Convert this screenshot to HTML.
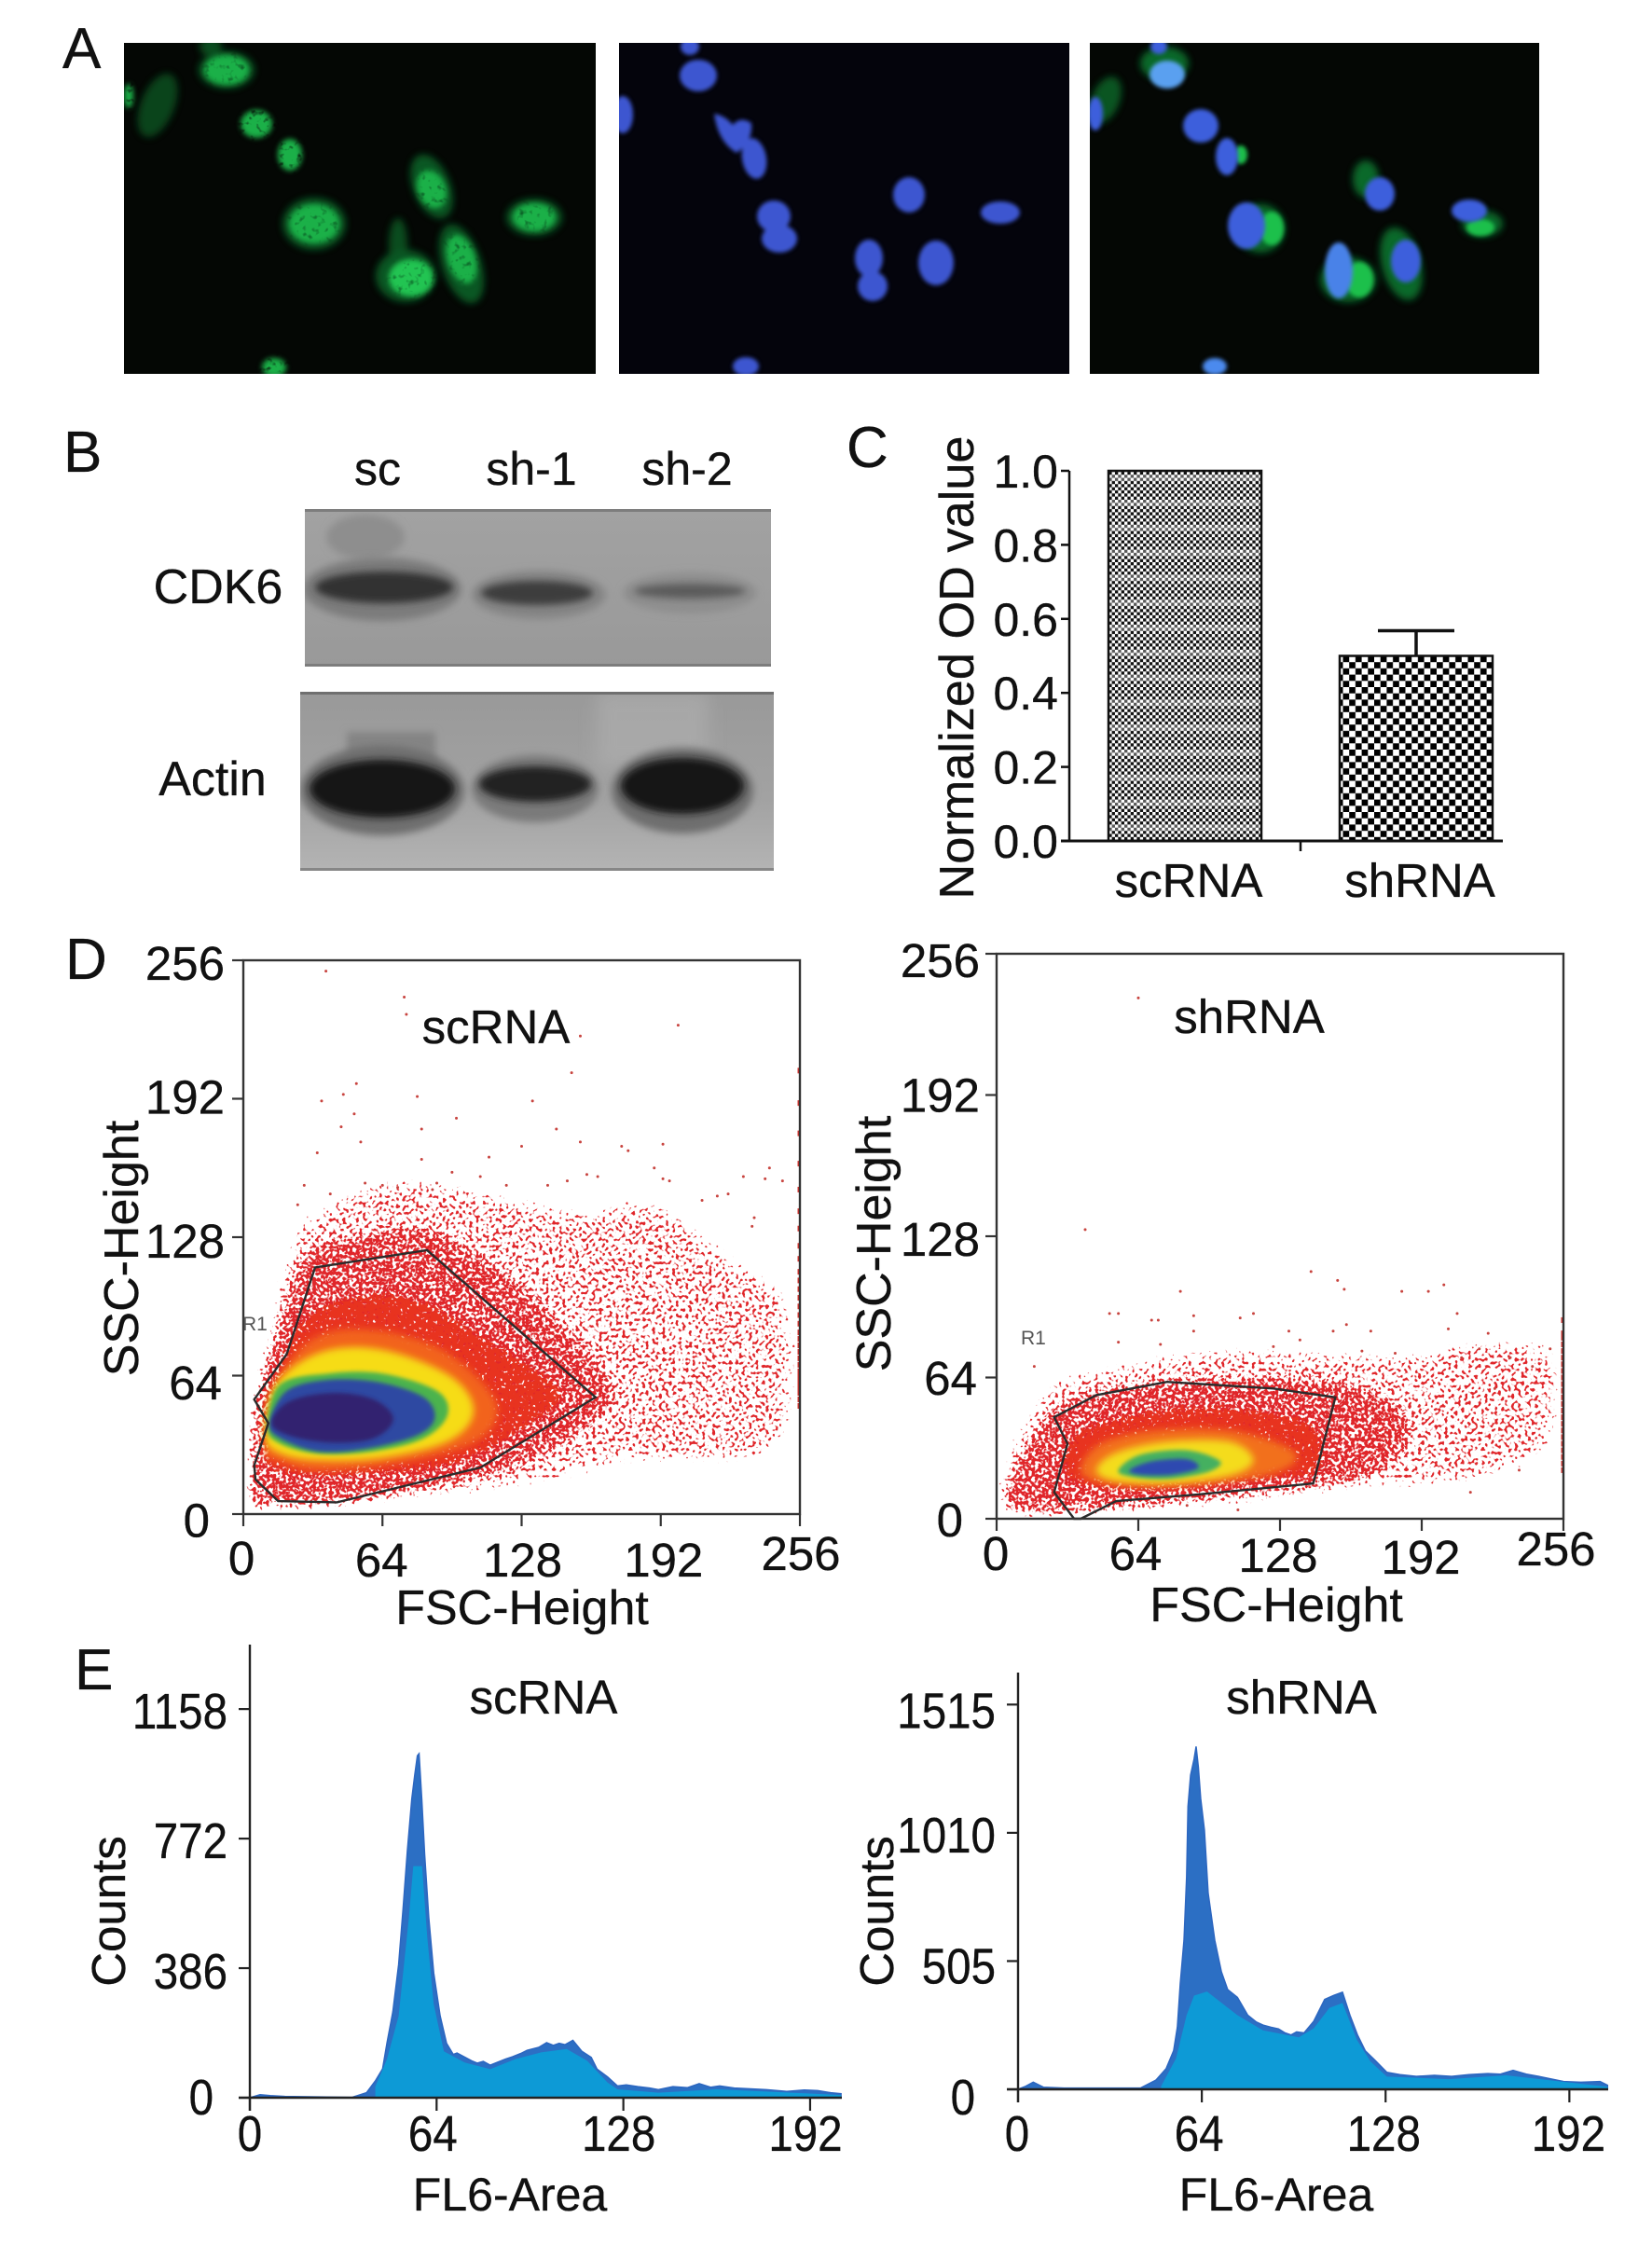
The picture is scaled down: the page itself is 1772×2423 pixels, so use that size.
<!DOCTYPE html>
<html lang="en">
<head>
<meta charset="utf-8">
<title>CDK6 knockdown figure</title>
<style>
html,body{margin:0;padding:0;background:#fff;width:1772px;height:2423px;overflow:hidden}
svg{display:block;position:absolute;left:0;top:0}
text{font-family:"Liberation Sans",Arial,sans-serif;fill:#111;stroke:#111;stroke-width:.35}
</style>
</head>
<body>
<svg id="figure" width="1772" height="2423" viewBox="0 0 1772 2423" xmlns="http://www.w3.org/2000/svg">
<defs>
  <filter id="soft2" x="-30%" y="-30%" width="160%" height="160%"><feGaussianBlur stdDeviation="2"/></filter>
  <filter id="soft4" x="-40%" y="-40%" width="180%" height="180%"><feGaussianBlur stdDeviation="4"/></filter>
  <filter id="soft9" x="-60%" y="-60%" width="220%" height="220%"><feGaussianBlur stdDeviation="9"/></filter>
  <filter id="cell-grain" x="-20%" y="-20%" width="140%" height="140%" color-interpolation-filters="sRGB">
    <feGaussianBlur stdDeviation="3" result="b"/>
    <feTurbulence type="fractalNoise" baseFrequency="0.16" numOctaves="2" seed="8" result="n"/>
    <feColorMatrix in="n" type="matrix" values="0 0 0 0 0 0 0 0 0 0 0 0 0 0 0 0 0 0 2.6 -0.15" result="t"/>
    <feComposite in="b" in2="t" operator="in"/>
  </filter>
  <filter id="stipple-sparse" x="-15%" y="-15%" width="130%" height="130%" color-interpolation-filters="sRGB">
    <feGaussianBlur in="SourceAlpha" stdDeviation="14" result="b"/>
    <feTurbulence type="fractalNoise" baseFrequency="0.28" numOctaves="1" seed="5" result="n"/>
    <feComposite in="b" in2="n" operator="arithmetic" k1="0" k2="0.5" k3="0.5" k4="0" result="s"/>
    <feColorMatrix in="s" type="matrix" values="0 0 0 0 0 0 0 0 0 0 0 0 0 0 0 0 0 0 25 -19.3" result="t"/>
    <feFlood flood-color="#e0262a" result="f"/>
    <feComposite in="f" in2="t" operator="in"/>
  </filter>
  <filter id="stipple-medium" x="-15%" y="-15%" width="130%" height="130%" color-interpolation-filters="sRGB">
    <feGaussianBlur in="SourceAlpha" stdDeviation="9" result="b"/>
    <feTurbulence type="fractalNoise" baseFrequency="0.28" numOctaves="1" seed="11" result="n"/>
    <feComposite in="b" in2="n" operator="arithmetic" k1="0" k2="0.5" k3="0.5" k4="0" result="s"/>
    <feColorMatrix in="s" type="matrix" values="0 0 0 0 0 0 0 0 0 0 0 0 0 0 0 0 0 0 25 -18" result="t"/>
    <feFlood flood-color="#e0262a" result="f"/>
    <feComposite in="f" in2="t" operator="in"/>
  </filter>
  <filter id="stipple-dense" x="-15%" y="-15%" width="130%" height="130%" color-interpolation-filters="sRGB">
    <feGaussianBlur in="SourceAlpha" stdDeviation="7" result="b"/>
    <feTurbulence type="fractalNoise" baseFrequency="0.3" numOctaves="1" seed="21" result="n"/>
    <feComposite in="b" in2="n" operator="arithmetic" k1="0" k2="0.5" k3="0.5" k4="0" result="s"/>
    <feColorMatrix in="s" type="matrix" values="0 0 0 0 0 0 0 0 0 0 0 0 0 0 0 0 0 0 25 -16.5" result="t"/>
    <feFlood flood-color="#e8331f" result="f"/>
    <feComposite in="f" in2="t" operator="in"/>
  </filter>
  <pattern id="fine-check" width="6.7" height="26.8" patternUnits="userSpaceOnUse">
    <rect width="6.7" height="26.8" fill="#fff"/>
    <rect y="0" width="3.35" height="3.35" fill="#111"/>
    <rect x="3.35" y="3.35" width="3.35" height="3.35" fill="#111"/>
    <rect y="6.7" width="3.35" height="3.35" fill="#111"/>
    <rect x="3.35" y="10.05" width="3.35" height="3.35" fill="#111"/>
    <rect y="13.4" width="3.35" height="3.35" fill="#111"/>
    <rect x="3.35" y="16.75" width="3.35" height="3.35" fill="#111"/>
    <rect y="20.1" width="3.35" height="3.35" fill="#111"/>
    <rect x="3.35" y="23.45" width="3.35" height="3.35" fill="#111"/>
    <rect y="0" width="6.7" height="6.7" fill="#fff" opacity="0.3"/>
  </pattern>
  <pattern id="coarse-check" width="13.4" height="13.4" patternUnits="userSpaceOnUse">
    <rect width="13.4" height="13.4" fill="#fff"/>
    <rect width="6.7" height="6.7" fill="#000"/>
    <rect x="6.7" y="6.7" width="6.7" height="6.7" fill="#000"/>
  </pattern>
  <linearGradient id="blot2-bg" x1="0" y1="0" x2="0" y2="1">
    <stop offset="0" stop-color="#999"/><stop offset="0.6" stop-color="#a2a2a2"/><stop offset="1" stop-color="#b4b4b4"/>
  </linearGradient>
  <linearGradient id="blot1-bg" x1="0" y1="0" x2="0" y2="1">
    <stop offset="0" stop-color="#a2a2a2"/><stop offset="1" stop-color="#999"/>
  </linearGradient>
  <clipPath id="clip-a1"><rect x="133" y="46" width="506" height="355"/></clipPath>
  <clipPath id="clip-a2"><rect x="664" y="46" width="483" height="355"/></clipPath>
  <clipPath id="clip-a3"><rect x="1169" y="46" width="482" height="355"/></clipPath>
  <clipPath id="clip-b1"><rect x="327" y="546" width="500" height="169"/></clipPath>
  <clipPath id="clip-b2"><rect x="322" y="742" width="508" height="192"/></clipPath>
</defs>

<rect width="1772" height="2423" fill="#fff"/>

<!-- Panel A -->
<text x="67" y="73" font-size="62">A</text>
<g clip-path="url(#clip-a1)">
  <rect x="133" y="46" width="506" height="355" fill="#040704"/>
  <g fill="#0f7a30" filter="url(#soft4)" opacity="0.7">
    <ellipse cx="226" cy="50" rx="12" ry="10" fill="#0c6b2a"/>
    <ellipse cx="169" cy="113" rx="18" ry="36" transform="rotate(22 169 113)" fill="#0b5f26"/>
    <ellipse cx="463" cy="200" rx="20" ry="36" transform="rotate(-22 463 200)"/>
    <ellipse cx="427" cy="262" rx="10" ry="28" fill="#0c6b2a"/>
    <ellipse cx="495" cy="283" rx="21" ry="44" transform="rotate(-18 495 283)"/>
    <ellipse cx="435" cy="296" rx="32" ry="28"/>
    <ellipse cx="337" cy="240" rx="34" ry="28"/>
    <ellipse cx="573" cy="233" rx="30" ry="20"/>
    <ellipse cx="243" cy="75" rx="30" ry="20"/>
  </g>
  <g fill="#1bb048" filter="url(#cell-grain)">
    <ellipse cx="243" cy="75" rx="24" ry="16"/>
    <ellipse cx="138" cy="103" rx="5" ry="13"/>
    <ellipse cx="275" cy="133" rx="17" ry="15"/>
    <ellipse cx="311" cy="166" rx="13" ry="17"/>
    <ellipse cx="463" cy="203" rx="15" ry="21" transform="rotate(-22 463 203)"/>
    <ellipse cx="337" cy="240" rx="27" ry="21"/>
    <ellipse cx="573" cy="233" rx="23" ry="15"/>
    <ellipse cx="441" cy="298" rx="24" ry="20" fill="#22c452"/>
    <ellipse cx="495" cy="278" rx="15" ry="27" transform="rotate(-18 495 278)"/>
    <ellipse cx="294" cy="394" rx="13" ry="10"/>
  </g>
</g>
<g clip-path="url(#clip-a2)">
  <rect x="664" y="46" width="483" height="355" fill="#04040c"/>
  <g fill="#3d56d0" filter="url(#soft2)">
    <ellipse cx="740" cy="50" rx="10" ry="9"/>
    <ellipse cx="749" cy="81" rx="20" ry="17"/>
    <ellipse cx="668" cy="123" rx="11" ry="20"/>
    <path d="M766 122 Q778 124 786 134 Q794 124 806 132 Q808 152 790 164 Q770 152 766 122Z"/>
    <ellipse cx="809" cy="170" rx="13" ry="22" transform="rotate(-10 809 170)"/>
    <ellipse cx="975" cy="209" rx="17" ry="19"/>
    <ellipse cx="1073" cy="228" rx="21" ry="12"/>
    <ellipse cx="830" cy="232" rx="18" ry="17"/>
    <ellipse cx="836" cy="256" rx="19" ry="15"/>
    <ellipse cx="932" cy="277" rx="15" ry="20"/>
    <ellipse cx="936" cy="307" rx="16" ry="16"/>
    <ellipse cx="1004" cy="282" rx="19" ry="24"/>
    <ellipse cx="800" cy="393" rx="14" ry="10"/>
  </g>
</g>
<g clip-path="url(#clip-a3)">
  <rect x="1169" y="46" width="482" height="355" fill="#040704"/>
  <g fill="#108235" filter="url(#soft4)" opacity="0.8">
    <ellipse cx="1249" cy="68" rx="26" ry="18"/>
    <ellipse cx="1186" cy="107" rx="15" ry="26" transform="rotate(22 1186 107)" fill="#0c6b2a"/>
    <ellipse cx="1465" cy="192" rx="14" ry="20"/>
    <ellipse cx="1503" cy="283" rx="21" ry="40" transform="rotate(-15 1503 283)"/>
    <ellipse cx="1446" cy="300" rx="30" ry="24"/>
    <ellipse cx="1352" cy="245" rx="26" ry="26"/>
    <ellipse cx="1590" cy="240" rx="22" ry="14"/>
  </g>
  <g fill="#1cc04c" filter="url(#soft2)">
    <ellipse cx="1331" cy="166" rx="7" ry="10"/>
    <ellipse cx="1364" cy="245" rx="13" ry="18"/>
    <ellipse cx="1588" cy="244" rx="15" ry="9"/>
    <ellipse cx="1458" cy="300" rx="15" ry="19"/>
  </g>
  <g fill="#3d5fdc" filter="url(#soft2)">
    <ellipse cx="1243" cy="50" rx="9" ry="8"/>
    <ellipse cx="1175" cy="122" rx="8" ry="18"/>
    <ellipse cx="1288" cy="135" rx="19" ry="18"/>
    <ellipse cx="1316" cy="168" rx="12" ry="20"/>
    <ellipse cx="1480" cy="208" rx="16" ry="18"/>
    <ellipse cx="1337" cy="242" rx="20" ry="25"/>
    <ellipse cx="1576" cy="226" rx="19" ry="12"/>
    <ellipse cx="1436" cy="290" rx="15" ry="30" fill="#4a82e8"/>
    <ellipse cx="1508" cy="280" rx="16" ry="23"/>
    <ellipse cx="1252" cy="80" rx="19" ry="15" fill="#5aa0f0"/>
    <ellipse cx="1303" cy="393" rx="13" ry="9" fill="#4c8aee"/>
  </g>
</g>

<!-- Panel B -->
<text x="68" y="506" font-size="62">B</text>
<text x="405" y="520" font-size="50" text-anchor="middle">sc</text>
<text x="570" y="520" font-size="50" text-anchor="middle">sh-1</text>
<text x="737" y="520" font-size="50" text-anchor="middle">sh-2</text>
<text x="234" y="647" font-size="52" text-anchor="middle">CDK6</text>
<text x="228" y="853" font-size="52" text-anchor="middle">Actin</text>
<g clip-path="url(#clip-b1)">
  <rect x="327" y="546" width="500" height="169" fill="url(#blot1-bg)"/>
  <ellipse cx="392" cy="576" rx="42" ry="24" fill="#8e8e8e" filter="url(#soft4)"/>
  <ellipse cx="410" cy="632" rx="85" ry="34" fill="#7c7c7c" filter="url(#soft4)"/>
  <ellipse cx="578" cy="638" rx="72" ry="26" fill="#858585" filter="url(#soft4)"/>
  <ellipse cx="740" cy="636" rx="72" ry="22" fill="#8e8e8e" filter="url(#soft4)"/>
  <ellipse cx="412" cy="630" rx="74" ry="17" fill="#333" filter="url(#soft4)"/>
  <ellipse cx="576" cy="636" rx="60" ry="13" fill="#3e3e3e" filter="url(#soft4)"/>
  <ellipse cx="740" cy="634" rx="60" ry="8" fill="#5c5c5c" filter="url(#soft4)"/>
  <rect x="327" y="546" width="500" height="3" fill="#7d7d7d"/>
  <rect x="327" y="712" width="500" height="3" fill="#7d7d7d"/>
</g>
<g clip-path="url(#clip-b2)">
  <rect x="322" y="742" width="508" height="192" fill="url(#blot2-bg)"/>
  <rect x="372" y="785" width="95" height="60" fill="#848484" filter="url(#soft4)"/>
  <rect x="640" y="742" width="120" height="80" fill="#b0b0b0" opacity="0.6" filter="url(#soft9)"/>
  <ellipse cx="410" cy="848" rx="88" ry="48" fill="#6e6e6e" filter="url(#soft4)"/>
  <ellipse cx="574" cy="846" rx="68" ry="36" fill="#7a7a7a" filter="url(#soft4)"/>
  <ellipse cx="732" cy="848" rx="76" ry="46" fill="#6e6e6e" filter="url(#soft4)"/>
  <ellipse cx="410" cy="846" rx="78" ry="31" fill="#131313" filter="url(#soft4)"/>
  <ellipse cx="574" cy="841" rx="60" ry="19" fill="#222" filter="url(#soft4)"/>
  <ellipse cx="732" cy="843" rx="66" ry="30" fill="#161616" filter="url(#soft4)"/>
  <rect x="322" y="742" width="508" height="3" fill="#6f6f6f"/>
  <rect x="322" y="931" width="508" height="3" fill="#868686"/>
</g>

<text x="908" y="501" font-size="62">C</text>
<text x="70" y="1050" font-size="62">D</text>
<text x="80" y="1812" font-size="62">E</text>

<g id="chart-c"></g>
<g id="chart-d1"></g>
<g id="chart-d2"></g>
<g id="chart-e1"></g>
<g id="chart-e2"></g>
</svg>

<script>
// ---------- Panel C data ----------
const cCategories = ['scRNA', 'shRNA'];
const cValues = [1.0, 0.5];
const cErrors = [0, 0.068];
const cTickValues = [0, 0.2, 0.4, 0.6, 0.8, 1.0];
const cTickLabels = ['0.0', '0.2', '0.4', '0.6', '0.8', '1.0'];

// ---------- Panel D data: [FSC, SSC] ----------
const flowTicks = [0, 64, 128, 192, 256];

const scGate = [[5,53],[11.5,42],[5,22.5],[5.6,16],[16,6],[43,5.4],[109,21.5],[162,54],[84.5,122],[33,114],[20,74]];
const scSparse = [[0,0],[0,20],[3,60],[10,105],[20,135],[36,148],[67,160],[105,156],[150,146],[190,150],[225,125],[256,100],[256,40],[235,20],[175,18],[150,11],[102,4],[43,0]];
const scMedium = [[0,2],[1,50],[12,90],[26,124],[55,134],[86,136],[124,114],[166,74],[174,50],[141,24],[102,10],[41,0],[13,0]];
const scRed = [[8,23],[13,60],[24,89],[46,102],[79,102],[116,81],[149,56],[126,35],[93,20],[43,16],[15,18]];
const scOrange = [[10,29],[14,58],[32,81],[60,85],[93,75],[116,52],[109,35],[79,25],[36,20],[15,25]];
const scYellow = [[10,37],[15,60],[36,75],[64,76],[95,64],[106,48],[95,34],[64,26],[32,25],[15,29]];
const scGreen = [[11,41],[17,60],[39,65],[64,65],[89,57],[94,46],[83,35],[60,29],[34,28],[16,33]];
const scBlue = [[12,42],[20,57],[39,62],[62,61],[83,54],[88,44],[79,36],[55,30],[34,29],[17,35]];
const scPurple = [[13,42],[21,52],[41,56],[60,53],[69,44],[60,35],[41,33],[22,36]];
const scOutliers = [[38,251],[74,239],[75,231],[200,226],[155,221],[151,204],[52,199],[46,194],[36,191],[80,193],[133,191],[51,185],[45,179],[98,183],[82,178],[144,178],[54,172],[34,167],[155,172],[174,170],[193,171],[177,168],[128,170],[113,165],[82,164],[189,160],[242,160],[240,155],[230,156],[248,154],[193,155],[196,154],[158,157],[163,156],[223,148],[218,147],[211,145],[235,137],[234,133],[56,153],[64,152],[71,151],[28,152],[40,148],[25,143],[87,150],[89,153],[96,158],[109,156],[121,152],[140,152],[149,154]];
const scEdgeSsc = [50,53,56,58,60,62,64,66,69,72,75,78,81,84,88,92,96,100,104,108,112,118,124,132,140,150,162,176,190,205];

const shGate = [[26,46],[45,56],[77,62],[125,59],[153,55],[143,16],[91,11],[54,8],[38,0],[35,0],[26,12],[32,34]];
const shSparse = [[0,0],[2,34],[22,66],[59,76],[91,82],[137,82],[183,80],[218,86],[256,80],[256,34],[237,18],[203,10],[161,8],[91,0]];
const shMedium = [[4,0],[4,26],[28,56],[68,66],[114,68],[149,67],[179,58],[192,38],[176,18],[146,10],[91,4],[49,0]];
const shRed = [[29,20],[33,39],[59,49],[95,53],[132,49],[147,41],[146,20],[114,15],[79,12],[45,12]];
const shOrange = [[38,22],[47,34],[72,40],[105,40],[130,33],[135,26],[119,19],[82,15],[49,16]];
const shYellow = [[45,22],[54,30],[77,35],[105,35],[116,27],[107,20],[79,16],[54,17]];
const shGreen = [[55,22],[65,29],[86,31],[101,26],[95,21],[77,18],[61,19]];
const shBlue = [[60,22],[70,26],[86,27],[91,23],[79,20],[65,20]];
const shOutliers = [[64,236],[40,131],[142,112],[154,108],[83,103],[202,106],[183,103],[195,103],[157,104],[208,93],[116,93],[110,91],[89,92],[51,93],[55,93],[70,90],[73,90],[204,86],[222,84],[169,85],[132,85],[152,85],[89,85],[158,88],[55,80],[17,69],[74,79],[125,78],[137,81],[165,76],[180,75],[218,77],[250,77],[232,73],[242,69],[210,73],[225,59],[236,22],[214,12],[109,4],[86,6]];
const shEdgeSsc = [22,25,28,31,34,37,40,43,46,49,52,55,58,61,64,67,70,73,76,79,82,84,90];

// ---------- Panel E data: [FL6, counts] ----------
const e1Ticks = [0, 386, 772, 1158];
const e2Ticks = [0, 505, 1010, 1515];
const histXTicks = [0, 64, 128, 192];
const e1Counts = [[0,0],[3.5,9],[7,6],[12,4],[35,1],[40,15],[43,50],[45.5,86],[47,163],[49,256],[51,397],[52.5,561],[54,737],[55.5,890],[56.5,960],[57.4,1019],[58,1025],[58.9,890],[59.9,725],[61.3,537],[63,372],[65.2,244],[67.4,162],[69.7,129],[71,133],[73.6,121],[76,110],[78,103],[80,108],[82.4,97],[85,106],[87.6,115],[90,122],[92.9,132],[95,141],[99,150],[101.7,164],[104,156],[106,162],[108,158],[110.7,171],[113.8,138],[117,120],[119,85],[122.6,62],[126,35],[129,38],[133,33],[137,29],[140,24],[145,33],[150,30],[154,42],[158,31],[161,35],[166,29],[170,27],[177,24],[184,19],[190,23],[194.6,21],[199,15],[202.6,12]];
const e1Inner = [[43,33],[47,115],[51,244],[54.5,537],[56,690],[59,690],[60.8,478],[63,279],[66.5,138],[73.6,105],[82.4,85],[91,115],[99.8,135],[108.6,145],[115.6,110],[122.6,45],[126,25],[140,15],[160,25],[202.6,8]];
const e2Counts = [[0,0],[2.7,12],[5.3,28],[8.9,8],[16,5],[42.7,5],[48,36],[51.6,82],[54.2,152],[55.5,245],[56.5,416],[57.8,587],[58.7,835],[59.2,1114],[60.1,1238],[61.3,1300],[62,1350],[62.8,1269],[63.6,1145],[64.9,1021],[66.2,773],[68.5,587],[70.8,463],[73,393],[76.4,362],[80,292],[83,265],[85.3,253],[88,245],[90.7,238],[93,222],[95.1,214],[97,226],[99.6,222],[103,268],[106.8,354],[110,370],[113,382],[115.6,292],[118.2,214],[120.9,152],[124.4,113],[128.4,67],[133,58],[138.7,51],[145,55],[151,51],[157,58],[163.6,62],[168,60],[172.4,75],[177,60],[181.3,51],[190,31],[196,28],[202.7,31],[205.3,16]];
const e2Inner = [[49.8,12],[55,121],[58.7,292],[61.3,369],[65.8,385],[76.4,292],[85.3,232],[97.8,205],[103,240],[108.4,320],[113,340],[115.6,265],[118,195],[122.7,110],[128.4,50],[150,40],[170,55],[205.3,10]];

const SVG_NS = 'http://www.w3.org/2000/svg';

function make(parent, tag, attrs) {
  const el = document.createElementNS(SVG_NS, tag);
  for (const k in attrs) el.setAttribute(k, attrs[k]);
  parent.appendChild(el);
  return el;
}
function label(parent, str, x, y, size, anchor, name, rot, sx) {
  const t = make(parent, 'text', { 'font-size': size, 'text-anchor': anchor || 'middle' });
  t.setAttribute('transform', 'translate(' + x + ' ' + y + ')' + (rot ? ' rotate(' + rot + ')' : '') + (sx ? ' scale(' + sx + ' 1)' : ''));
  
  
  t.textContent = str;
  return t;
}
function smoothClosed(points) {
  const n = points.length;
  let d = 'M' + points[0][0].toFixed(1) + ' ' + points[0][1].toFixed(1);
  for (let i = 0; i < n; i++) {
    const p0 = points[(i - 1 + n) % n], p1 = points[i], p2 = points[(i + 1) % n], p3 = points[(i + 2) % n];
    const c1x = p1[0] + (p2[0] - p0[0]) / 6, c1y = p1[1] + (p2[1] - p0[1]) / 6;
    const c2x = p2[0] - (p3[0] - p1[0]) / 6, c2y = p2[1] - (p3[1] - p1[1]) / 6;
    d += 'C' + c1x.toFixed(1) + ' ' + c1y.toFixed(1) + ' ' + c2x.toFixed(1) + ' ' + c2y.toFixed(1) + ' ' + p2[0].toFixed(1) + ' ' + p2[1].toFixed(1);
  }
  return d + 'Z';
}

// ---------- Panel C ----------
(function () {
  const g = document.getElementById('chart-c');
  const y = v => 902 - v * 397;
  const centers = [1271, 1519];
  const patterns = ['url(#fine-check)', 'url(#coarse-check)'];
  cValues.forEach((v, i) => {
    const bar = make(g, 'rect', { x: centers[i] - 82, y: y(v), width: 164, height: y(0) - y(v), fill: patterns[i], stroke: '#111', 'stroke-width': 2.5 });
    
    
    if (cErrors[i] > 0) {
      const err = make(g, 'path', { d: 'M' + centers[i] + ' ' + y(v) + 'V' + y(v + cErrors[i]) + 'M' + (centers[i] - 41) + ' ' + y(v + cErrors[i]) + 'H' + (centers[i] + 41), stroke: '#111', 'stroke-width': 3.5, fill: 'none' });
      
      
    }
    label(g, cCategories[i], centers[i] + 4, 962, 51, 'middle', 'x-label-' + cCategories[i]);
  });
  const yAxis = make(g, 'line', { x1: 1147, x2: 1147, y1: y(1), y2: y(0), stroke: '#111', 'stroke-width': 2.5 });
  
  
  const xAxis = make(g, 'line', { x1: 1138, x2: 1612, y1: y(0), y2: y(0), stroke: '#111', 'stroke-width': 3 });
  
  
  const midTick = make(g, 'line', { x1: 1395, x2: 1395, y1: y(0), y2: 913, stroke: '#111', 'stroke-width': 2.5 });
  
  
  cTickValues.forEach((v, i) => {
    const tick = make(g, 'line', { x1: 1138, x2: 1147, y1: y(v), y2: y(v), stroke: '#111', 'stroke-width': 2.5 });
    
    
    label(g, cTickLabels[i], 1135, y(v) + 18, 50, 'end', 'y-tick-label');
  });
  label(g, 'Normalized OD value', 1044, 716, 52.3, 'middle', 'y-axis-title', -90);
})();

// ---------- Panel D ----------
function drawFlow(cfg) {
  const g = document.getElementById(cfg.id);
  const x = v => cfg.x0 + v * (cfg.x1 - cfg.x0) / 256;
  const y = v => cfg.y0 - v * (cfg.y0 - cfg.y1) / 256;
  const toPx = arr => arr.map(p => [x(p[0]), y(p[1])]);
  const clipId = cfg.id + '-clip';
  const defs = make(g, 'clipPath', { id: clipId });
  make(defs, 'rect', { x: cfg.x0, y: cfg.y1, width: cfg.x1 - cfg.x0, height: cfg.y0 - cfg.y1 });
  const marks = make(g, 'g', { 'clip-path': 'url(#' + clipId + ')' });

  const sparse = make(marks, 'path', { d: smoothClosed(toPx(cfg.sparse)), fill: '#e0262a', filter: 'url(#stipple-sparse)' });
  
  
  const medium = make(marks, 'path', { d: smoothClosed(toPx(cfg.medium)), fill: '#e0262a', filter: 'url(#stipple-medium)' });
  
  

  cfg.bands.forEach(b => {
    const band = make(marks, 'path', { d: smoothClosed(toPx(b.pts)), fill: b.color, filter: b.filter });
    
    
  });
  cfg.outliers.forEach(p => {
    const dot = make(marks, 'circle', { cx: x(p[0]), cy: y(p[1]), r: 1.5, fill: '#c8443f' });
    
    
  });
  cfg.edge.forEach(v => {
    const dot = make(marks, 'rect', { x: x(256) - 2.5, y: y(v) - 3, width: 3, height: 6, fill: '#d3332e' });
    
    
  });
  const gate = make(g, 'polygon', { points: toPx(cfg.gate).map(p => p.join(',')).join(' '), fill: 'none', stroke: '#2b2b2b', 'stroke-width': 2.4 });
  
  

  const frame = make(g, 'rect', { x: cfg.x0, y: cfg.y1, width: cfg.x1 - cfg.x0, height: cfg.y0 - cfg.y1, fill: 'none', stroke: '#333', 'stroke-width': 2.4 });
  
  

  flowTicks.forEach((t, i) => {
    const xt = make(g, 'line', { x1: x(t), x2: x(t), y1: cfg.y0, y2: cfg.y0 + 13, stroke: '#333', 'stroke-width': 2.2 });
    
    
    const yt = make(g, 'line', { x1: cfg.x0 - 12, x2: cfg.x0, y1: y(t), y2: y(t), stroke: '#333', 'stroke-width': 2.2 });
    
    
    label(g, String(t), x(t) + cfg.xLabelDx[i], cfg.y0 + cfg.xLabelDy[i], 51, 'middle', 'x-tick-label');
    label(g, String(t), cfg.x0 - cfg.yLabelGap[i], y(t) + cfg.yLabelDy[i], 51, 'end', 'y-tick-label');
  });
  label(g, 'FSC-Height', cfg.xTitleX, cfg.xTitleY, 52, 'middle', 'x-axis-title');
  label(g, 'SSC-Height', cfg.yTitleX, cfg.yTitleY, 52, 'middle', 'y-axis-title', -90);
  label(g, cfg.title, cfg.titleX, cfg.titleY, 51, 'middle', 'plot-title');
  const r1 = label(g, 'R1', cfg.r1X, cfg.r1Y, 21, 'start', 'gate-label-r1');
  r1.setAttribute('style', 'fill:#555;stroke:none');
}
drawFlow({
  id: 'chart-d1', x0: 261, x1: 858, y0: 1624, y1: 1030,
  sparse: scSparse, medium: scMedium, gate: scGate, outliers: scOutliers, edge: scEdgeSsc,
  bands: [
    { name: 'red', color: '#e8331f', pts: scRed, filter: 'url(#stipple-dense)' },
    { name: 'orange', color: '#f2641c', pts: scOrange, filter: 'url(#soft4)' },
    { name: 'yellow', color: '#f6dc14', pts: scYellow, filter: 'url(#soft4)' },
    { name: 'green', color: '#4cb34e', pts: scGreen, filter: 'url(#soft2)' },
    { name: 'blue', color: '#2f4aa2', pts: scBlue, filter: 'url(#soft2)' },
    { name: 'purple', color: '#33246f', pts: scPurple, filter: 'url(#soft2)' }
  ],
  xLabelDx: [-2, -1, 1, 3, 1], xLabelDy: [65, 67, 67, 67, 60],
  yLabelGap: [36, 23, 20, 20, 20], yLabelDy: [24.5, 25.5, 22, 16, 21],
  title: 'scRNA', titleX: 532, titleY: 1119,
  xTitleX: 560, xTitleY: 1742, yTitleX: 148, yTitleY: 1339, r1X: 260, r1Y: 1427
});
drawFlow({
  id: 'chart-d2', x0: 1069, x1: 1677, y0: 1629, y1: 1023,
  sparse: shSparse, medium: shMedium, gate: shGate, outliers: shOutliers, edge: shEdgeSsc,
  bands: [
    { name: 'red', color: '#e8331f', pts: shRed, filter: 'url(#stipple-dense)' },
    { name: 'orange', color: '#f2701c', pts: shOrange, filter: 'url(#soft4)' },
    { name: 'yellow', color: '#f4dc1c', pts: shYellow, filter: 'url(#soft4)' },
    { name: 'green', color: '#44b060', pts: shGreen, filter: 'url(#soft2)' },
    { name: 'blue', color: '#2f4ab0', pts: shBlue, filter: 'url(#soft2)' }
  ],
  xLabelDx: [-1, -3, -2, -1, -8], xLabelDy: [55, 55, 57, 59, 50],
  yLabelGap: [36, 21, 18, 18, 18], yLabelDy: [19, 18.5, 21, 18, 25],
  title: 'shRNA', titleX: 1340, titleY: 1108,
  xTitleX: 1369, xTitleY: 1739, yTitleX: 955, yTitleY: 1334, r1X: 1095, r1Y: 1442
});

// ---------- Panel E ----------
function drawHist(cfg) {
  const g = document.getElementById(cfg.id);
  const x = v => cfg.x0 + v * cfg.xScale;
  const y = v => cfg.y0 - v * cfg.yScale;
  const area = arr => {
    let d = 'M' + x(arr[0][0]).toFixed(1) + ' ' + y(0).toFixed(1);
    arr.forEach(p => { d += 'L' + x(p[0]).toFixed(1) + ' ' + y(p[1]).toFixed(1); });
    return d + 'L' + x(arr[arr.length - 1][0]).toFixed(1) + ' ' + y(0).toFixed(1) + 'Z';
  };
  const outer = make(g, 'path', { d: area(cfg.counts), fill: '#2c6fc4', stroke: '#2c66c0', 'stroke-width': 1.5 });
  
  
  const inner = make(g, 'path', { d: area(cfg.inner), fill: '#0d9ad6' });
  
  

  const yAxis = make(g, 'line', { x1: cfg.x0, x2: cfg.x0, y1: cfg.axisTop, y2: cfg.y0 + 14, stroke: '#222', 'stroke-width': 2.4 });
  
  
  const xAxis = make(g, 'line', { x1: cfg.x0 - 12, x2: cfg.xEnd, y1: cfg.y0, y2: cfg.y0, stroke: '#222', 'stroke-width': 2.6 });
  
  

  cfg.yTicks.forEach((t, i) => {
    const tick = make(g, 'line', { x1: cfg.x0 - 12, x2: cfg.x0, y1: y(t), y2: y(t), stroke: '#222', 'stroke-width': 2.2 });
    
    
    label(g, String(t), cfg.x0 - cfg.yLabelGap[i], y(t) + cfg.yLabelDy[i], 54, 'end', 'y-tick-label', 0, 0.88);
  });
  histXTicks.forEach((t, i) => {
    const tick = make(g, 'line', { x1: x(t), x2: x(t), y1: cfg.y0, y2: cfg.y0 + 14, stroke: '#222', 'stroke-width': 2.2 });
    
    
    label(g, String(t), x(t) + cfg.xLabelDx[i], 2307, 54, 'middle', 'x-tick-label', 0, 0.88);
  });
  label(g, 'FL6-Area', cfg.xTitleX, 2371, 50, 'middle', 'x-axis-title');
  label(g, 'Counts', cfg.yTitleX, 2050, 51, 'middle', 'y-axis-title', -90);
  label(g, cfg.title, cfg.titleX, 1838, 51, 'middle', 'plot-title');
}
drawHist({
  id: 'chart-e1', x0: 268, y0: 2250, xScale: 3.13, yScale: 0.36, xEnd: 903, axisTop: 1764,
  counts: e1Counts, inner: e1Inner, yTicks: e1Ticks, title: 'scRNA', titleX: 583, xTitleX: 547, yTitleX: 134,
  xLabelDx: [0, -4, -5, -5], yLabelGap: [39, 24, 24, 24], yLabelDy: [18, 22, 21, 21]
});
drawHist({
  id: 'chart-e2', x0: 1092, y0: 2241, xScale: 3.08, yScale: 0.2724, xEnd: 1725, axisTop: 1794,
  counts: e2Counts, inner: e2Inner, yTicks: e2Ticks, title: 'shRNA', titleX: 1396, xTitleX: 1369, yTitleX: 958,
  xLabelDx: [-1, -3, -2, -1], yLabelGap: [46, 24, 24, 24], yLabelDy: [27, 24, 21, 25]
});
</script>
</body>
</html>
